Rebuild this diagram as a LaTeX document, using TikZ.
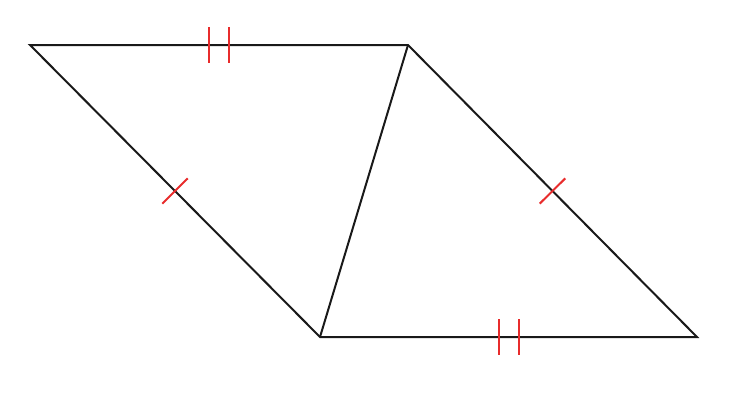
\documentclass[tikz,border=0pt]{standalone}
\usepackage{tikz}
\usetikzlibrary{calc}
\definecolor{tickred}{RGB}{232,44,44}

\begin{document}
\begin{tikzpicture}[x=1pt,y=-1pt]
		% Define styles for sides and tick marks
		\tikzstyle{side} = [line width=2pt, black!90]
		\tikzstyle{tick} = [line width=2pt, tickred]
		\useasboundingbox (0,0) rectangle (740,402);
		
		% Vertices of the parallelogram
		\coordinate (a) at (30,45);
		\coordinate (b) at (408,45);
		\coordinate (c) at (697,337);
		\coordinate (d) at (320,337);
		
		% Draw the parallelogram and its diagonal
		\draw[side] (a) -- (b) -- (c) -- (d) -- cycle;
		\draw[side] (b) -- (d);
		
		% Midpoints of the sides
		\coordinate (mab) at ($(a)!0.5!(b)$);
		\coordinate (mdc) at ($(d)!0.5!(c)$);
		\coordinate (mad) at ($(a)!0.5!(d)$);
		\coordinate (mbc) at ($(b)!0.5!(c)$);
		
		% Single tick marks
		\draw[tick] ($(mad)!18pt!90:(d)$) -- ($(mad)!18pt!-90:(d)$);
		\draw[tick] ($(mbc)!18pt!90:(c)$) -- ($(mbc)!18pt!-90:(c)$);
		
		% Double tick marks
		\draw[tick] ($(mab)+(-10,-18)$) -- ($(mab)+(-10,18)$);
		\draw[tick] ($(mab)+(10,-18)$) -- ($(mab)+(10,18)$);
		\draw[tick] ($(mdc)+(-10,-18)$) -- ($(mdc)+(-10,18)$);
		\draw[tick] ($(mdc)+(10,-18)$) -- ($(mdc)+(10,18)$);
	
	\end{tikzpicture}
\end{document}
